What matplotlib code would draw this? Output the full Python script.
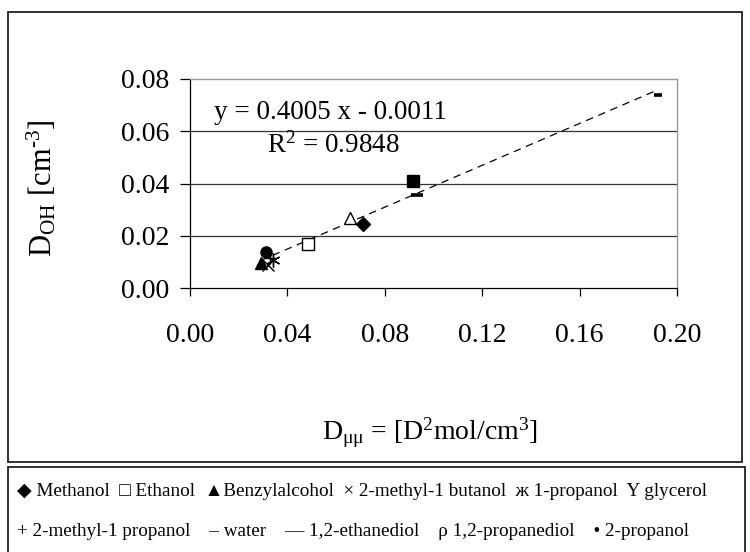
import matplotlib
matplotlib.use("Agg")
import matplotlib.pyplot as plt
from matplotlib.patches import Rectangle

plt.rcParams['font.family'] = ['Liberation Serif', 'DejaVu Serif']
plt.rcParams['mathtext.default'] = 'regular'

# Dipole density (x) vs OH group density (y) for each alcohol
names = ['Methanol', 'Ethanol', 'Benzylalcohol', '2-methyl-1 butanol',
         '1-propanol', 'glycerol', '2-methyl-1 propanol', 'water',
         '1,2-ethanediol', '1,2-propanediol', '2-propanol']
d_mumu = [0.0709, 0.0486, 0.0290, 0.0322, 0.0342, 0.0915, 0.0330,
          0.1920, 0.0931, 0.0657, 0.0312]
d_oh = [0.0246, 0.0170, 0.0094, 0.0088, 0.0107, 0.0409, 0.0115,
        0.0740, 0.0357, 0.0269, 0.0138]
legend_glyphs = ['\u25c6', '\u25a1', '\u25b2', '\u00d7', '\u0436', '\u03a5',
                 '+', '\u2013', '\u2014', '\u03c1', '\u2022']

# Linear trendline coefficients
slope = 0.4005
intercept = -0.0011
r_squared = 0.9848

x_ticks = [0.00, 0.04, 0.08, 0.12, 0.16, 0.20]
y_ticks = [0.00, 0.02, 0.04, 0.06, 0.08]

# marker style per compound: (marker, size, filled, edge width)
styles = [
    ('D', 7, True, 1.0),
    ('s', 8, False, 1.0),
    ('^', 9, True, 1.0),
    ('x', 8, False, 1.0),
    ((6, 2, 0), 10, False, 1.0),
    ('s', 8, True, 1.0),
    ('+', 9, False, 1.0),
    ('_', 6, False, 2.6),
    ('_', 8, False, 2.6),
    ('^', 9, False, 1.0),
    ('o', 8, True, 1.0),
]

fig = plt.figure(figsize=(7.5, 5.52), dpi=100)

# chart frame and legend frame
fig.patches.append(Rectangle((8 / 750, 90 / 552), 734 / 750, 450 / 552,
                             transform=fig.transFigure, fill=False,
                             edgecolor='#222222', linewidth=1.3))
fig.patches.append(Rectangle((8 / 750, -10 / 552), 737 / 750, 95 / 552,
                             transform=fig.transFigure, fill=False,
                             edgecolor='#222222', linewidth=1.3))

ax = fig.add_axes([190 / 750, 264 / 552, 487 / 750, 209 / 552])
ax.set_xlim(0, 0.2)
ax.set_ylim(0, 0.08)

for y in y_ticks[1:-1]:
    ax.axhline(y, color='#333333', linewidth=0.9, zorder=1)

for (m, ms, filled, mew), x, y in zip(styles, d_mumu, d_oh):
    line_marker_only = m in ('x', '+', '_') or isinstance(m, tuple)
    ax.plot([x], [y], linestyle='none', marker=m, markersize=ms,
            markerfacecolor=('none' if line_marker_only
                             else 'black' if filled else 'white'),
            markeredgecolor='black', markeredgewidth=mew, zorder=3)

x0, x1 = min(d_mumu), max(d_mumu)
ax.plot([x0, x1], [slope * x0 + intercept, slope * x1 + intercept],
        color='black', linewidth=0.9, dashes=(6, 4.5), zorder=2)

ax.text(0.0099, 0.0670, f'y = {slope:.4f} x - {abs(intercept):.4f}',
        fontsize=19.5, va='center', ha='left')
ax.text(0.0591, 0.0545, f'R$^{{2}}$ = {r_squared:.4f}',
        fontsize=19.5, va='center', ha='center')

ax.set_xticks(x_ticks)
ax.set_yticks(y_ticks)
ax.set_xticklabels([f'{v:.2f}' for v in x_ticks])
ax.set_yticklabels([f'{v:.2f}' for v in y_ticks])
ax.tick_params(axis='x', direction='out', length=6, width=0.9, pad=19,
               labelsize=20)
ax.tick_params(axis='y', direction='out', length=7, width=0.9, pad=8,
               labelsize=20)

for side in ('left', 'bottom'):
    ax.spines[side].set_color('black')
    ax.spines[side].set_linewidth(0.9)
for side in ('top', 'right'):
    ax.spines[side].set_color('#999999')
    ax.spines[side].set_linewidth(1.0)

fig.text(430 / 750, 1 - 433 / 552, 'D$_{\u03bc\u03bc}$ = [D$^{2}$mol/cm$^{3}$]',
         fontsize=20, ha='center', va='center')
fig.text(42 / 750, 1 - 188 / 552, 'D$_{OH}$ [cm$^{\u20103}$]',
         fontsize=22, ha='center', va='center', rotation=90)

# legend rows
row1 = '  '.join(f'{g}{n}' if g == '\u25b2' else f'{g} {n}'
                 for g, n in zip(legend_glyphs[:6], names[:6]))
row2 = '    '.join(f'{g} {n}' for g, n in zip(legend_glyphs[6:], names[6:]))
fig.text(17 / 750, 1 - 491 / 552, row1, fontsize=13.75, ha='left', va='center')
fig.text(17 / 750, 1 - 531 / 552, row2, fontsize=13.75, ha='left', va='center')

fig.savefig('out.png', dpi=100)
